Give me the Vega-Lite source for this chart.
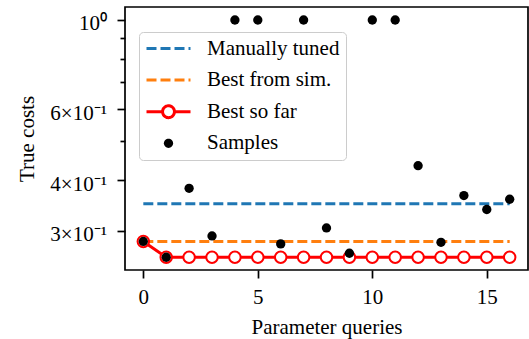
{
  "$schema": "https://vega.github.io/schema/vega-lite/v6.json",
  "width": 403,
  "height": 263,
  "autosize": {"type": "none"},
  "padding": {"left": 125, "top": 7, "right": 1, "bottom": 69},
  "background": "white",
  "config": {
    "font": "Liberation Serif",
    "view": {"stroke": "black", "strokeWidth": 1.7},
    "axis": {
      "grid": false,
      "domain": false,
      "tickColor": "black",
      "tickWidth": 1.7,
      "labelColor": "black",
      "titleColor": "black",
      "labelFont": "Liberation Serif",
      "titleFont": "Liberation Serif",
      "labelFontSize": 21,
      "titleFontSize": 21,
      "titleFontWeight": "normal",
      "labelFlush": false
    },
    "legend": {
      "labelFont": "Liberation Serif",
      "title": null,
      "orient": "none",
      "direction": "vertical",
      "legendX": 14,
      "legendY": 25,
      "padding": 6,
      "fillColor": "white",
      "strokeColor": "#cccccc",
      "cornerRadius": 4,
      "symbolSize": 1936,
      "symbolStrokeWidth": 3,
      "symbolOpacity": 1,
      "labelFontSize": 21,
      "labelColor": "black",
      "labelOffset": 15,
      "labelLimit": 0,
      "clipHeight": 21,
      "rowPadding": 9.6
    }
  },
  "datasets": {
    "samples": [
      {"query": 0, "cost": 0.282},
      {"query": 1, "cost": 0.2576},
      {"query": 2, "cost": 0.382},
      {"query": 3, "cost": 0.291},
      {"query": 4, "cost": 1.0},
      {"query": 5, "cost": 1.0},
      {"query": 6, "cost": 0.278},
      {"query": 7, "cost": 1.0},
      {"query": 8, "cost": 0.3046},
      {"query": 9, "cost": 0.2636},
      {"query": 10, "cost": 1.0},
      {"query": 11, "cost": 1.0},
      {"query": 12, "cost": 0.4348},
      {"query": 13, "cost": 0.2806},
      {"query": 14, "cost": 0.3665},
      {"query": 15, "cost": 0.3384},
      {"query": 16, "cost": 0.3589}
    ],
    "best": [
      {"query": 0, "cost": 0.282},
      {"query": 1, "cost": 0.2576},
      {"query": 2, "cost": 0.2576},
      {"query": 3, "cost": 0.2576},
      {"query": 4, "cost": 0.2576},
      {"query": 5, "cost": 0.2576},
      {"query": 6, "cost": 0.2576},
      {"query": 7, "cost": 0.2576},
      {"query": 8, "cost": 0.2576},
      {"query": 9, "cost": 0.2576},
      {"query": 10, "cost": 0.2576},
      {"query": 11, "cost": 0.2576},
      {"query": 12, "cost": 0.2576},
      {"query": 13, "cost": 0.2576},
      {"query": 14, "cost": 0.2576},
      {"query": 15, "cost": 0.2576},
      {"query": 16, "cost": 0.2576}
    ],
    "refs": [
      {"query": 0, "cost": 0.35, "series": "Manually tuned"},
      {"query": 16, "cost": 0.35, "series": "Manually tuned"},
      {"query": 0, "cost": 0.282, "series": "Best from sim."},
      {"query": 16, "cost": 0.282, "series": "Best from sim."}
    ]
  },
  "encoding": {
    "x": {
      "field": "query",
      "type": "quantitative",
      "scale": {"domain": [-0.8, 16.8], "nice": false, "zero": false},
      "axis": {
        "values": [0, 5, 10, 15],
        "tickSize": 8,
        "labelPadding": 8.7,
        "title": "Parameter queries",
        "titleBaseline": "alphabetic",
        "titleY": 63
      }
    },
    "y": {
      "field": "cost",
      "type": "quantitative",
      "scale": {"type": "log", "domain": [0.2395, 1.077], "nice": false},
      "axis": {
        "values": [0.3, 0.4, 0.5, 0.6, 0.7, 0.8, 0.9, 1],
        "labelExpr": "datum.value == 1 ? '10⁰' : datum.value == 0.6 ? '6×10⁻¹' : datum.value == 0.4 ? '4×10⁻¹' : datum.value == 0.3 ? '3×10⁻¹' : ''",
        "tickSize": {"condition": {"test": "datum.value == 0.5 || datum.value == 0.7 || datum.value == 0.8 || datum.value == 0.9", "value": 5}, "value": 8},
        "labelPadding": 10.5,
        "labelOffset": 4,
        "title": "True costs",
        "titleAngle": -90,
        "titleBaseline": "alphabetic",
        "titleAlign": "center",
        "titleX": -92,
        "titleY": 131.5
      }
    }
  },
  "layer": [
    {
      "data": {"name": "refs"},
      "transform": [{"filter": "datum.series === 'Manually tuned'"}],
      "mark": {"type": "line", "color": "#1f77b4", "strokeWidth": 3, "strokeDash": [10, 4]}
    },
    {
      "data": {"name": "refs"},
      "transform": [{"filter": "datum.series === 'Best from sim.'"}],
      "mark": {"type": "line", "color": "#ff7f0e", "strokeWidth": 3, "strokeDash": [10, 4]}
    },
    {
      "data": {"name": "best"},
      "mark": {"type": "line", "color": "#ff0000", "strokeWidth": 3}
    },
    {
      "data": {"name": "best"},
      "mark": {"type": "point", "shape": "circle", "filled": true, "fill": "#ffffff", "stroke": "#ff0000", "strokeWidth": 2, "size": 132, "opacity": 1}
    },
    {
      "data": {"name": "samples"},
      "mark": {"type": "circle", "color": "#000000", "size": 87, "opacity": 1}
    },
    {
      "data": {"name": "refs"},
      "mark": {"type": "point", "opacity": 0, "strokeWidth": 3},
      "encoding": {
        "stroke": {
          "field": "series",
          "type": "nominal",
          "scale": {
            "domain": ["Manually tuned", "Best from sim.", "Best so far", "Samples"],
            "range": ["#1f77b4", "#ff7f0e", "#ff0000", "transparent"]
          },
          "legend": {"title": null, "encode": {"labels": {"dy": {"value": 1.5}}}}
        },
        "fill": {
          "field": "series",
          "type": "nominal",
          "scale": {
            "domain": ["Manually tuned", "Best from sim.", "Best so far", "Samples"],
            "range": ["transparent", "transparent", "#ffffff", "#000000"]
          },
          "legend": {"title": null}
        },
        "shape": {
          "field": "series",
          "type": "nominal",
          "scale": {
            "domain": ["Manually tuned", "Best from sim.", "Best so far", "Samples"],
            "range": [
              "M-1,0L1,0",
              "M-1,0L1,0",
              "M-1,0L-0.27,0M0.27,0L1,0M-0.27,0A0.27,0.27 0 1,1 0.27,0A0.27,0.27 0 1,1 -0.27,0Z",
              "M-0.21,0A0.21,0.21 0 1,1 0.21,0A0.21,0.21 0 1,1 -0.21,0Z"
            ]
          },
          "legend": {"title": null}
        },
        "strokeDash": {
          "field": "series",
          "type": "nominal",
          "scale": {
            "domain": ["Manually tuned", "Best from sim.", "Best so far", "Samples"],
            "range": [[10, 4], [10, 4], [1, 0], [1, 0]]
          },
          "legend": {"title": null}
        }
      }
    }
  ]
}
